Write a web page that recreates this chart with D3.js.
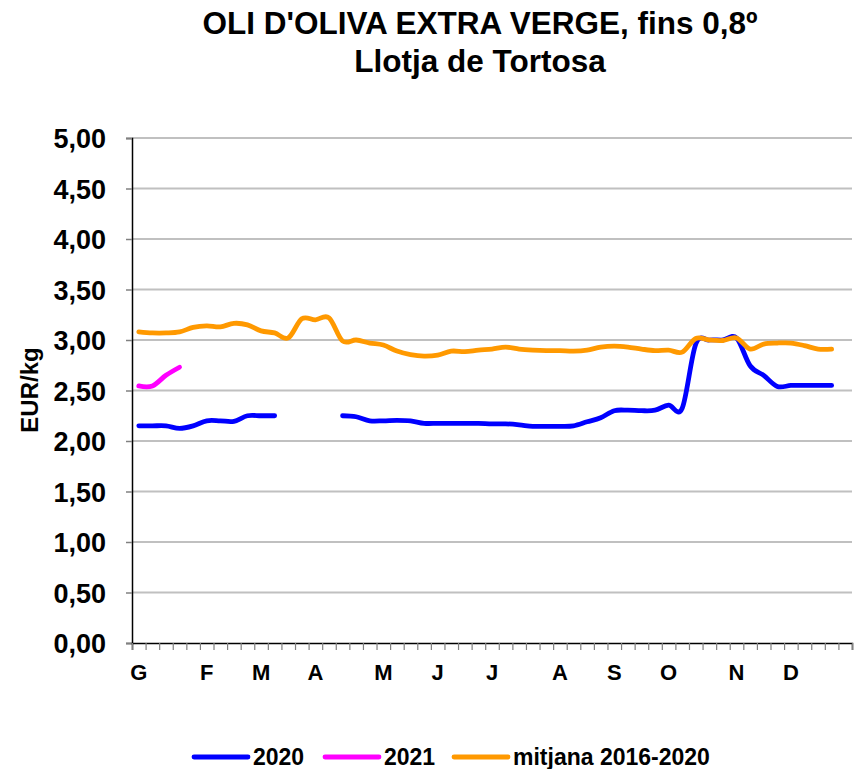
<!DOCTYPE html>
<html>
<head>
<meta charset="utf-8">
<script src="https://cdn.jsdelivr.net/npm/d3@7"></script>
<style>
  html, body { margin: 0; padding: 0; background: #fff; }
  svg { display: block; font-family: "Liberation Sans", Arial, sans-serif; }
</style>
</head>
<body>
<svg id="chart" width="854" height="769"></svg>
<script>
// ---- data ----
const titleLines = ["OLI D'OLIVA EXTRA VERGE, fins 0,8º", "Llotja de Tortosa"];
const yTitle = "EUR/kg";
const weekCount = 53;
const monthLabels = ["G","F","M","A","M","J","J","A","S","O","N","D"];
const monthWeekIdx = [0,5,9,13,18,22,26,31,35,39,44,48];
const yTicks = [0,0.5,1,1.5,2,2.5,3,3.5,4,4.5,5];

const series2020 = [2.15,2.15,2.15,2.125,2.15,2.20,2.20,2.195,2.25,2.25,2.25,null,null,null,null,
  2.25,2.24,2.20,2.20,2.205,2.20,2.175,2.175,2.175,2.175,2.175,
  2.17,2.17,2.16,2.145,2.145,2.145,2.15,2.19,2.23,2.30,2.305,2.30,2.305,2.355,2.325,
  2.96,3.00,3.00,3.02,2.745,2.65,2.54,2.55,2.55,2.55,2.55];
const series2021 = [2.545,2.545,2.65,2.73];
const seriesAvg = [3.08,3.07,3.07,3.08,3.125,3.14,3.13,3.165,3.15,3.09,3.07,3.02,3.21,3.20,3.22,
  2.99,3.00,2.97,2.95,2.89,2.855,2.84,2.85,2.89,2.885,2.90,
  2.91,2.93,2.91,2.90,2.895,2.895,2.89,2.90,2.93,2.94,2.93,2.91,2.895,2.90,2.88,
  3.015,3.00,2.995,3.02,2.91,2.96,2.97,2.97,2.945,2.91,2.91];

const seriesNames = ["2020","2021","mitjana 2016-2020"];
const seriesColors = ["#0000FF","#FF00FF","#FF9900"];
const seriesData = [series2020, series2021, seriesAvg];

// ---- layout ----
const svg = d3.select("#chart");
const L = 132, R = 852, T = 138, B = 643;
const font = "'Liberation Sans', Arial, sans-serif";

const x = d3.scaleLinear().domain([0, weekCount]).range([L, R]);
const y = d3.scaleLinear().domain([0, 5]).range([B, T]);

// title
svg.append("g").selectAll("text").data(titleLines).join("text")
  .attr("x", 480).attr("y", (d,i) => 34 + i*38)
  .attr("text-anchor", "middle")
  .attr("font-size", 31.5).attr("font-weight", "bold").attr("fill", "#000")
  .text(d => d);

// gridlines
svg.append("g").selectAll("line").data(yTicks.filter(d => d > 0)).join("line")
  .attr("x1", L).attr("x2", R)
  .attr("y1", d => y(d)).attr("y2", d => y(d))
  .attr("stroke", "#C0C0C0").attr("stroke-width", 2);

// y axis
const yAxis = svg.append("g").attr("transform", `translate(${L},0)`)
  .call(d3.axisLeft(y).tickValues(yTicks).tickSize(6).tickPadding(20)
    .tickFormat(d => d.toFixed(2).replace(".", ",")));
yAxis.select(".domain").attr("stroke", "#000").attr("stroke-width", 1.5);
yAxis.selectAll(".tick line").attr("stroke", "#808080").attr("stroke-width", 1.5);
yAxis.selectAll(".tick text").attr("font-size", 27).attr("font-weight", "bold")
  .attr("font-family", font).attr("fill", "#000").attr("dy", "0.36em");

// x axis ticks (at week boundaries)
const xAxis = svg.append("g").attr("transform", `translate(0,${B})`)
  .call(d3.axisBottom(x).tickValues(d3.range(0, weekCount + 1)).tickSize(7).tickFormat(""));
xAxis.select(".domain").attr("stroke", "#000").attr("stroke-width", 1.5);
xAxis.selectAll(".tick line").attr("stroke", "#808080").attr("stroke-width", 1.2);

// month labels (centred on their week)
svg.append("g").selectAll("text").data(monthLabels).join("text")
  .attr("x", (d,i) => x(monthWeekIdx[i] + 0.5))
  .attr("y", 680)
  .attr("text-anchor", "middle")
  .attr("font-size", 22).attr("font-weight", "bold").attr("fill", "#000")
  .text(d => d);

// y title
svg.append("text")
  .attr("transform", "translate(38,390) rotate(-90)")
  .attr("text-anchor", "middle")
  .attr("font-size", 24).attr("font-weight", "bold").attr("fill", "#000")
  .text(yTitle);

// lines
const line = d3.line()
  .defined(d => d != null)
  .x((d,i) => x(i + 0.5))
  .y(d => y(d))
  .curve(d3.curveCardinal.tension(0));

const plotOrder = [0, 1, 2];
svg.append("g").selectAll("path").data(plotOrder).join("path")
  .attr("d", k => line(seriesData[k]))
  .attr("fill", "none")
  .attr("stroke", k => seriesColors[k])
  .attr("stroke-width", 4.8)
  .attr("stroke-linecap", "round")
  .attr("stroke-linejoin", "round");

// legend
const legendLineX = [194, 325, 454];
const lg = svg.append("g");
seriesNames.forEach((name, k) => {
  lg.append("line")
    .attr("x1", legendLineX[k]).attr("x2", legendLineX[k] + 54)
    .attr("y1", 757).attr("y2", 757)
    .attr("stroke", seriesColors[k]).attr("stroke-width", 4.8)
    .attr("stroke-linecap", "round");
  lg.append("text")
    .attr("x", legendLineX[k] + 59).attr("y", 765)
    .attr("font-size", 23).attr("font-weight", "bold").attr("fill", "#000")
    .text(name);
});
</script>
</body>
</html>
